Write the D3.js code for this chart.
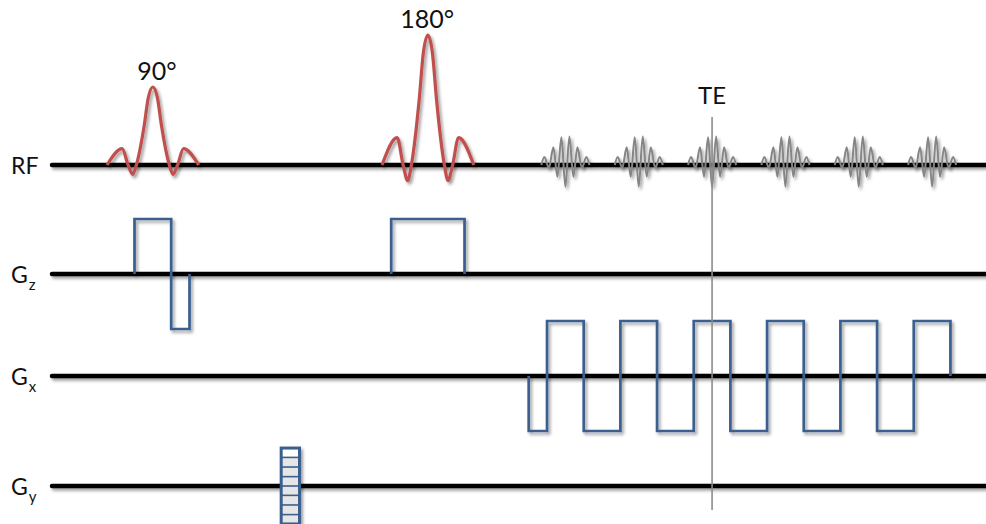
<!DOCTYPE html>
<html>
<head>
<meta charset="utf-8">
<script src="https://cdn.jsdelivr.net/npm/d3@7/dist/d3.min.js"></script>
<style>
  html, body { margin: 0; padding: 0; background: #ffffff; }
  svg { display: block; }
  text { font-family: Lato, "Open Sans", "DejaVu Sans", sans-serif; fill: #111; }
</style>
</head>
<body>
<svg id="chart" width="986" height="524"></svg>
<script>
// ---- Sequence data (time in units of one readout half-lobe) ----
const channels = ["RF", "Gz", "Gx", "Gy"];
const channelMain = ["RF", "G", "G", "G"];
const channelSub = ["", "z", "x", "y"];

// RF excitation / refocusing pulses: centre time, relative amplitude
const rfLabels = ["90°", "180°"];
const rfCenters = [2.75, 10.25];
const rfAmps = [0.6, 1.0];
const rfLabelTimes = [2.86, 10.23];
const rfHalfWidth = 1.25;
// truncated sinc envelope: [normalised time, amplitude]
const sincShape = [
  [-1, 0], [-0.67, 0.21], [-0.54, 0], [-0.44, -0.12], [-0.36, 0],
  [-0.19, 0.5], [-0.1, 0.86], [0, 1], [0.1, 0.86], [0.19, 0.5],
  [0.36, 0], [0.44, -0.12], [0.54, 0], [0.67, 0.21], [1, 0]
];

// gradient echoes sampled during readout
const echoTimes = [14, 16, 18, 20, 22, 24];
const echoAmp = 0.22;
const echoShape = [
  [-0.655, 0], [-0.573, 0.28], [-0.45, -0.1], [-0.327, 0.62], [-0.218, -0.41],
  [-0.109, 0.97], [0, -0.76], [0.109, 1], [0.218, -0.41], [0.327, 0.62],
  [0.45, -0.1], [0.573, 0.28], [0.655, 0]
];
const teTime = 18;
const teLabel = "TE";

// gradient lobes: [start, end, amplitude]
const gzLobes = [[2.25, 3.25, 1], [3.25, 3.75, -1], [9.25, 11.25, 1]];
const gxLobes = [
  [13.0, 13.5, -1], [13.5, 14.5, 1], [14.5, 15.5, -1], [15.5, 16.5, 1],
  [16.5, 17.5, -1], [17.5, 18.5, 1], [18.5, 19.5, -1], [19.5, 20.5, 1],
  [20.5, 21.5, -1], [21.5, 22.5, 1], [22.5, 23.5, -1], [23.5, 24.5, 1]
];
// phase-encode table
const gyStart = 6.25, gyEnd = 6.75;
const gyLevels = [0.69, 0.52, 0.345, 0.17, 0, -0.17, -0.345, -0.52, -0.69];

// ---- Layout ----
const W = 986, H = 524;
const baselines = { RF: 165, Gz: 274, Gx: 376, Gy: 486 };
const x = d3.scaleLinear().domain([0, 25.47]).range([52, 986]);
const gAmp = d3.scaleLinear().domain([-1, 1]).range([55, -55]);   // gradient offset from baseline
const rAmp = d3.scaleLinear().domain([0, 1]).range([0, -130]);    // RF offset from baseline

const svg = d3.select("#chart");
const defs = svg.append("defs");
const f = defs.append("filter").attr("id", "shadow")
  .attr("filterUnits", "userSpaceOnUse")
  .attr("x", 0).attr("y", 0).attr("width", W).attr("height", H);
f.append("feDropShadow").attr("dx", 2).attr("dy", 2.5)
  .attr("stdDeviation", 1.6).attr("flood-color", "#000").attr("flood-opacity", 0.38);

const blue = "#3a5e8e";
const red = "#c0504d";

// channel baselines
const axes = svg.append("g").attr("filter", "url(#shadow)");
axes.selectAll("line").data(channels).join("line")
  .attr("x1", x(0)).attr("x2", W + 10)
  .attr("y1", d => baselines[d]).attr("y2", d => baselines[d])
  .attr("stroke", "#000").attr("stroke-width", 4.5).attr("stroke-linecap", "round");

// channel labels
const lab = svg.append("g");
channels.forEach((c, i) => {
  const t = lab.append("text").attr("x", 11).attr("y", baselines[c] + 8.5)
    .attr("font-size", 23);
  t.append("tspan").text(channelMain[i]);
  if (channelSub[i]) {
    t.append("tspan").attr("font-size", 15).attr("dx", 1).attr("dy", 7).text(channelSub[i]);
  }
});

// RF pulses
const rfLine = d3.line().curve(d3.curveMonotoneX);
const rf = svg.append("g").attr("filter", "url(#shadow)");
rfCenters.forEach((c, i) => {
  const pts = sincShape.map(([s, a]) => [x(c + s * rfHalfWidth), baselines.RF + rAmp(a * rfAmps[i])]);
  rf.append("path").attr("d", rfLine(pts))
    .attr("fill", "none").attr("stroke", red).attr("stroke-width", 3.2)
    .attr("stroke-linejoin", "round");
});
rfLabels.forEach((l, i) => {
  svg.append("text").attr("x", x(rfLabelTimes[i]))
    .attr("y", baselines.RF + rAmp(rfAmps[i]) - 7)
    .attr("text-anchor", "middle").attr("font-size", 25).text(l);
});

// echoes
const echoes = svg.append("g").attr("filter", "url(#shadow)");
echoTimes.forEach(tc => {
  const pts = echoShape.map(([dt, a]) => [x(tc + dt), baselines.RF + rAmp(a * echoAmp)]);
  echoes.append("path").attr("d", rfLine(pts))
    .attr("fill", "none").attr("stroke", "#858585").attr("stroke-width", 2);
});

// gradient waveforms built from their lobes
function lobePath(lobes, y0) {
  const p = d3.path();
  let prevEnd = null;
  lobes.forEach(([t0, t1, a]) => {
    if (prevEnd === null || Math.abs(prevEnd - t0) > 1e-6) p.moveTo(x(t0), y0);
    else p.lineTo(x(t0), y0);
    p.lineTo(x(t0), y0 + gAmp(a));
    p.lineTo(x(t1), y0 + gAmp(a));
    p.lineTo(x(t1), y0);
    prevEnd = t1;
  });
  return p.toString();
}
const grads = svg.append("g").attr("filter", "url(#shadow)");
grads.append("path").attr("d", lobePath(gzLobes, baselines.Gz))
  .attr("fill", "none").attr("stroke", blue).attr("stroke-width", 2.7).attr("stroke-linejoin", "miter");
grads.append("path").attr("d", lobePath(gxLobes, baselines.Gx))
  .attr("fill", "none").attr("stroke", blue).attr("stroke-width", 2.7).attr("stroke-linejoin", "miter");

// phase-encode table on Gy
const gy = svg.append("g").attr("filter", "url(#shadow)");
const cells = d3.pairs(gyLevels);
gy.selectAll("rect.cell").data(cells).join("rect").attr("class", "cell")
  .attr("x", x(gyStart)).attr("width", x(gyEnd) - x(gyStart))
  .attr("y", d => baselines.Gy + gAmp(d[0]))
  .attr("height", d => gAmp(d[1]) - gAmp(d[0]))
  .attr("fill", (d, i) => i === 0 ? "#ffffff" : "#e6e6e6");
gy.selectAll("line.step").data(gyLevels.slice(1, -1)).join("line").attr("class", "step")
  .attr("x1", x(gyStart)).attr("x2", x(gyEnd))
  .attr("y1", d => baselines.Gy + gAmp(d)).attr("y2", d => baselines.Gy + gAmp(d))
  .attr("stroke", blue).attr("stroke-width", 1.6);
gy.append("rect")
  .attr("x", x(gyStart)).attr("width", x(gyEnd) - x(gyStart))
  .attr("y", baselines.Gy + gAmp(gyLevels[0]))
  .attr("height", gAmp(gyLevels[gyLevels.length - 1]) - gAmp(gyLevels[0]))
  .attr("fill", "none").attr("stroke", blue).attr("stroke-width", 3);

// echo time marker
svg.append("line")
  .attr("x1", x(teTime)).attr("x2", x(teTime))
  .attr("y1", 117).attr("y2", 510)
  .attr("stroke", "#8c8c8c").attr("stroke-width", 1.6);
svg.append("text").attr("x", x(teTime)).attr("y", 104)
  .attr("text-anchor", "middle").attr("font-size", 24).text(teLabel);
</script>
</body>
</html>
